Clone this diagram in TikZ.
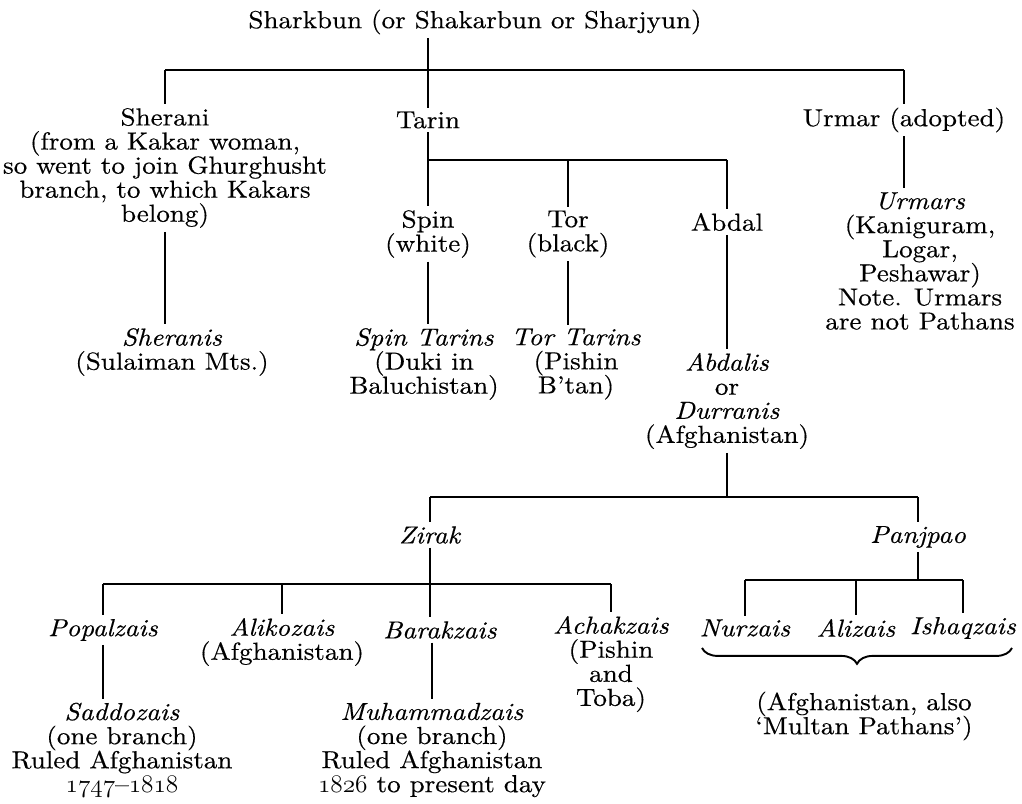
\documentclass[tikz,border=0pt]{standalone}
\usepackage{fontspec}
\setmainfont{lmroman10}[Extension=.otf, UprightFont=*-regular, ItalicFont=*-italic, FakeStretch=1.1, FakeBold=0.4]
\usetikzlibrary{decorations.pathreplacing}
\newcommand\tribefont{\fontsize{14}{13.7}\selectfont\lineskiplimit=-20pt\relax}
\newcommand\osnum[1]{{\usefont{OML}{lmm}{m}{it}#1}}
\tikzset{
  tribe/.style={align=center, inner sep=2pt, font=\tribefont},
  link/.style={line width=1.3pt},
}
\begin{document}
\begin{tikzpicture}[x=0.2mm,y=-0.2mm]
\useasboundingbox (0,0) rectangle (1022,804);
\node[tribe] (root) at (475,22) {Sharkbun (or Shakarbun or Sharjyun)};
\coordinate (b1) at (428,70);
\node[tribe] (sher) at (165,168) {Sherani\\(from a Kakar woman,\\so went to join Ghurghusht\\branch, to which Kakars\\belong)};
\node[tribe] (tarin) at (428,120) {Tarin};
\node[tribe] (urmar) at (904,120) {Urmar (adopted)};
\draw[link] (root.south -| b1) -- (b1);
\draw[link] (sher.north |- b1) -- (urmar.north |- b1);
\foreach \c in {sher,tarin,urmar} \draw[link] (\c.north |- b1) -- (\c.north);
\coordinate (b2) at (428,160);
\node[tribe] (spin) at (428,234) {Spin\\(white)};
\node[tribe] (tor) at (568,234) {Tor\\(black)};
\node[tribe] (abdal) at (727,222) {Abdal};
\draw[link] (tarin.south) -- (b2);
\draw[link] (spin.north |- b2) -- (abdal.north |- b2);
\foreach \c in {spin,tor,abdal} \draw[link] (\c.north |- b2) -- (\c.north);
\node[tribe] (sheranis) at (172,352) {\textit{Sheranis}\\(Sulaiman Mts.)};
\node[tribe] (spintar) at (424,364) {\textit{Spin Tarins}\\(Duki in\\Baluchistan)};
\node[tribe] (tortar) at (576,364) {\textit{Tor Tarins}\\(Pishin\\B'tan)};
\node[tribe] (abdalis) at (727,401) {\textit{Abdalis}\\or\\\textit{Durranis}\\(Afghanistan)};
\node[tribe] (urmars) at (920,261) {\textit{Urmars}\\(Kaniguram,\\Logar,\\Peshawar)\\Note. Urmars\\are not Pathans};
\draw[link] (sher.south) -- (sher.south |- sheranis.north);
\draw[link] (spin.south) -- (spin.south |- spintar.north);
\draw[link] (tor.south) -- (tor.south |- tortar.north);
\draw[link] (abdal.south) -- (abdalis.north);
\draw[link] (urmar.south) -- (urmar.south |- urmars.north);
\coordinate (b3) at (727,497);
\node[tribe] (zirak) at (430,535) {\textit{Zirak}};
\node[tribe] (panj) at (918,537) {\textit{Panjpao}};
\draw[link] (abdalis.south) -- (b3);
\draw[link] (zirak.north |- b3) -- (panj.north |- b3);
\foreach \c in {zirak,panj} \draw[link] (\c.north |- b3) -- (\c.north);
\coordinate (b4) at (430,584);
\node[tribe] (popal) at (103,630) {\textit{Popalzais}};
\node[tribe] (aliko) at (282,642) {\textit{Alikozais}\\(Afghanistan)};
\node[tribe] (barak) at (440,630) {\textit{Barakzais}};
\node[tribe] (achak) at (611,664) {\textit{Achakzais}\\(Pishin\\and\\Toba)};
\draw[link] (zirak.south) -- (zirak.south |- barak.north);
\draw[link] (popal.north |- b4) -- (achak.north |- b4);
\foreach \c in {popal,aliko,achak} \draw[link] (\c.north |- b4) -- (\c.north);
\node[tribe] (saddo) at (122,750) {\textit{Saddozais}\\(one branch)\\Ruled Afghanistan\\\osnum{1747}--\osnum{1818}};
\node[tribe] (muham) at (432,750) {\textit{Muhammadzais}\\(one branch)\\Ruled Afghanistan\\\osnum{1826} to present day};
\draw[link] (popal.south) -- (popal.south |- saddo.north);
\draw[link] (muham.north |- barak.south) -- (muham.north);
\coordinate (b5) at (918,580);
\node[tribe] (nur) at (745,628) {\textit{Nurzais}};
\node[tribe] (ali) at (856,628) {\textit{Alizais}};
\node[tribe] (ishaq) at (963,628) {\textit{Ishaqzais}};
\draw[link] (panj.south) -- (b5);
\draw[link] (nur.north |- b5) -- (ishaq.north |- b5);
\foreach \c in {nur,ali,ishaq} \draw[link] (\c.north |- b5) -- (\c.north);
\coordinate (bl) at (702,648);
\coordinate (br) at (1012,648);
\draw[link, line width=1.1pt, decorate, decoration={brace, mirror, amplitude=9pt}] (bl) -- (br);
\node[tribe] (multan) at (864,716) {(Afghanistan, also\\`Multan Pathans')};
\end{tikzpicture}
\end{document}
